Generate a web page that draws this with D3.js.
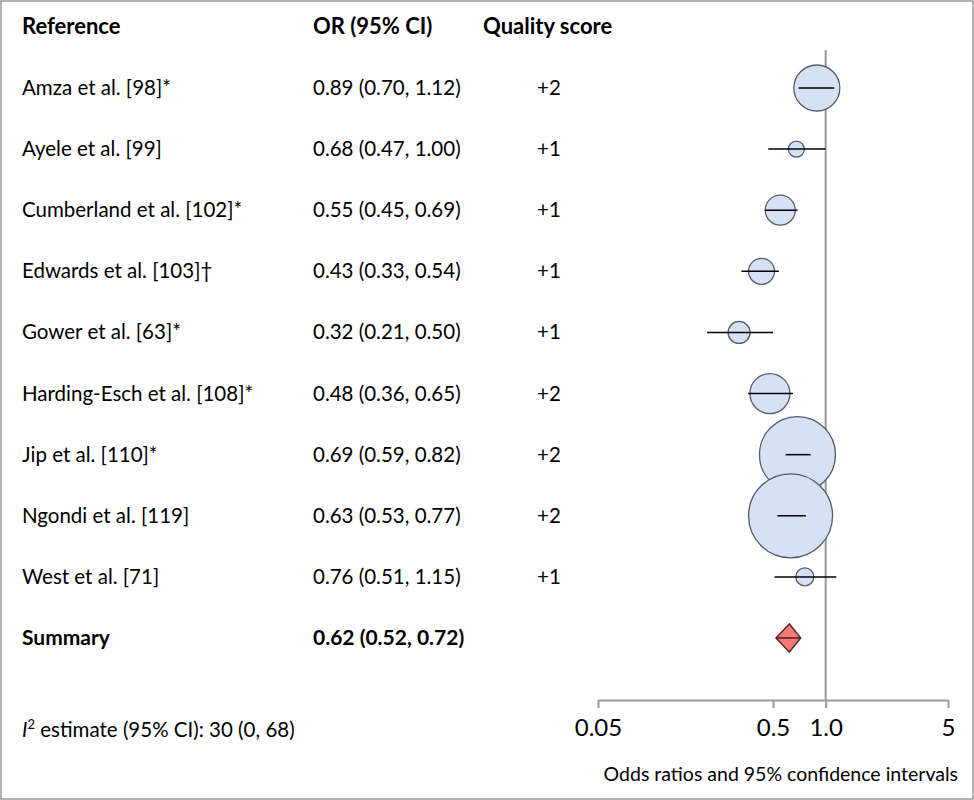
<!DOCTYPE html><html><head><meta charset="utf-8"><script src="https://cdn.jsdelivr.net/npm/d3@7"></script>
<style>body{margin:0;background:#fff}</style></head><body><script>
const refs=["Amza et al. [98]*","Ayele et al. [99]","Cumberland et al. [102]*","Edwards et al. [103]†","Gower et al. [63]*","Harding-Esch et al. [108]*","Jip et al. [110]*","Ngondi et al. [119]","West et al. [71]"];
const or=[0.89,0.68,0.55,0.43,0.32,0.48,0.69,0.63,0.76];
const lo=[0.70,0.47,0.45,0.33,0.21,0.36,0.59,0.53,0.51];
const hi=[1.12,1.00,0.69,0.54,0.50,0.65,0.82,0.77,1.15];
const quality=["+2","+1","+1","+1","+1","+2","+2","+2","+1"];
const radius=[23,8,15,13,11,20,38,42,9];
const summary={or:0.62,lo:0.52,hi:0.72};
const ticks=[0.05,0.5,1.0,5];
const tickLabels=["0.05","0.5","1.0","5"];
const W=974,H=800,font="Lato, 'Open Sans', sans-serif",fs=20.5;
const svg=d3.select("body").append("svg").attr("width",W).attr("height",H).style("font-family",font);
svg.append("rect").attr("x",1).attr("y",1).attr("width",W-2).attr("height",H-2).attr("fill","#fff").attr("stroke","#999").attr("stroke-width",1.5);
const x=d3.scaleLog().domain([0.05,5]).range([598,948]);
const y=d3.scaleLinear().domain([0,9]).range([88,638]);
const hd=[["Reference",22],["OR (95% CI)",313],["Quality score",483]];
svg.selectAll("text.h").data(hd).join("text").attr("x",d=>d[1]).attr("y",34).attr("font-weight","bold").attr("font-size",22).text(d=>d[0]);
const fmt=d3.format(".2f");
refs.forEach((r,i)=>{
  const yy=y(i)+7;
  svg.append("text").attr("x",22).attr("y",yy).attr("font-size",fs).text(r);
  svg.append("text").attr("x",313).attr("y",yy).attr("font-size",fs).text(`${fmt(or[i])} (${fmt(lo[i])}, ${fmt(hi[i])})`);
  svg.append("text").attr("x",549).attr("y",yy).attr("font-size",fs).attr("text-anchor","middle").text(quality[i]);
});
svg.append("text").attr("x",22).attr("y",y(9)+7).attr("font-size",21).attr("font-weight","bold").text("Summary");
svg.append("text").attr("x",313).attr("y",y(9)+7).attr("font-size",21).attr("font-weight","bold").text(`${fmt(summary.or)} (${fmt(summary.lo)}, ${fmt(summary.hi)})`);
svg.append("line").attr("x1",x(1)).attr("x2",x(1)).attr("y1",50).attr("y2",700).attr("stroke","#999").attr("stroke-width",2);
or.forEach((v,i)=>{
  svg.append("circle").attr("cx",x(v)).attr("cy",y(i)).attr("r",radius[i]).attr("fill","#d6e1f3").attr("stroke","#555a6a").attr("stroke-width",1.3);
  svg.append("line").attr("x1",x(lo[i])).attr("x2",x(hi[i])).attr("y1",y(i)).attr("y2",y(i)).attr("stroke","#000").attr("stroke-width",1.5);
});
const sy=y(9);
svg.append("path").attr("d",`M${x(summary.lo)},${sy}L${x(summary.or)},${sy-14}L${x(summary.hi)},${sy}L${x(summary.or)},${sy+14}Z`).attr("fill","#f47a7a").attr("stroke","#5a2a2a").attr("stroke-width",1.5);
svg.append("line").attr("x1",x(summary.lo)).attr("x2",x(summary.hi)).attr("y1",sy).attr("y2",sy).attr("stroke","#5a1a1a").attr("stroke-width",1.5);
const ax=d3.axisBottom(x).tickValues(ticks).tickFormat((d,i)=>tickLabels[i]).tickSize(8).tickSizeOuter(0);
const g=svg.append("g").attr("transform","translate(0,700)").call(ax);
g.select(".domain").attr("stroke","#999").attr("stroke-width",2);
g.selectAll(".tick line").attr("stroke","#999").attr("stroke-width",2);
g.selectAll(".tick text").attr("font-size",24).attr("font-family",font).attr("fill","#000").attr("dy","1.05em");
svg.append("text").attr("x",958).attr("y",781).attr("text-anchor","end").attr("font-size",19.5).text("Odds ratios and 95% confidence intervals");
const t=svg.append("text").attr("x",22).attr("y",737).attr("font-size",fs);
t.append("tspan").attr("font-style","italic").text("I");
t.append("tspan").attr("font-size",13).attr("dy",-8).text("2");
t.append("tspan").attr("dy",8).text(" estimate (95% CI): 30 (0, 68)");
</script></body></html>
